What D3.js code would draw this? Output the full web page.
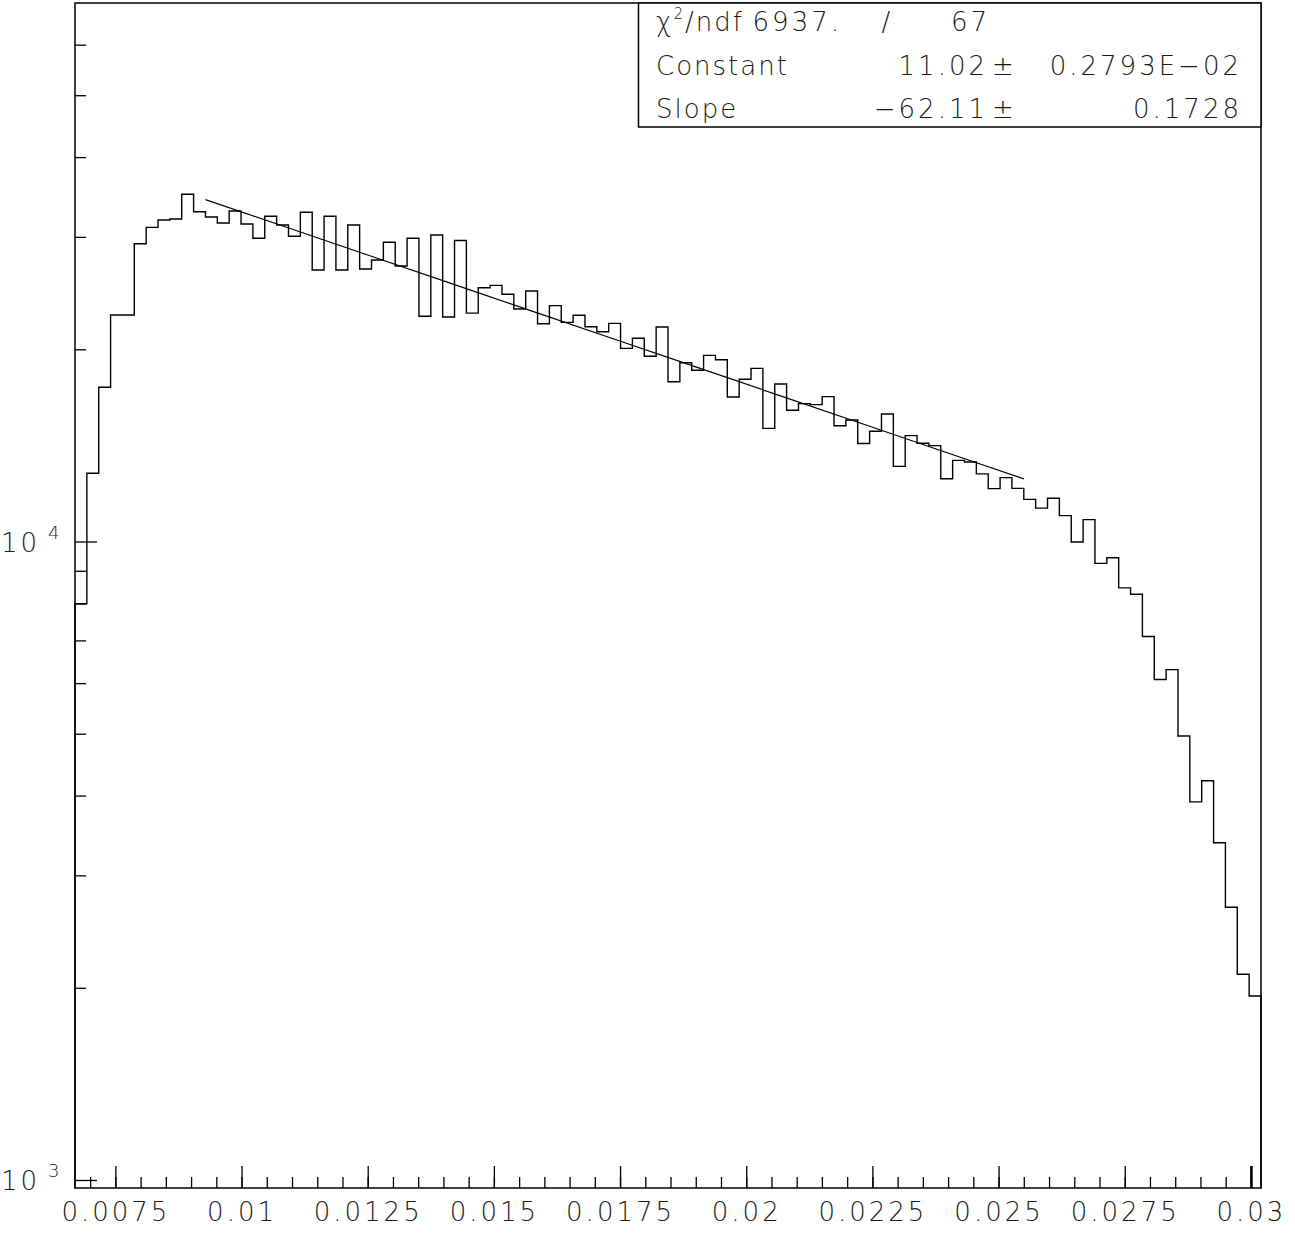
<!DOCTYPE html>
<html>
<head>
<meta charset="utf-8">
<script src="https://cdn.jsdelivr.net/npm/d3@7"></script>
<style>
  body { margin: 0; background: #fff; }
  svg text { font-family: "DejaVu Sans", sans-serif; font-weight: 200; fill: #1a1a1a; letter-spacing: 2px; }
  svg text.num { letter-spacing: 3px; }
</style>
</head>
<body>
<div id="chart"></div>
<script>
// histogram: 100 bins between xMin and xMax
var xMin = 0.0067, xMax = 0.0302;
var yMin = 971.5, yMax = 69730;
var counts = [
  7990, 12790, 17440, 22630, 22630, 29270, 31050, 31880, 32000, 34980,
  32850, 32230, 31540, 32930, 31430, 29850, 32310, 31310, 30060, 32780,
  26620, 32310, 26620, 31310, 26720, 27600, 29420, 27010, 29850, 22530,
  30200, 22470, 29610, 22790, 24970, 25190, 24390, 23130, 24680, 21930,
  23410, 22040, 22610, 21700, 21310, 21960, 20070, 20810, 19500, 21670,
  17790, 19050, 18540, 19570, 19260, 16840, 17950, 18670, 15040, 17650,
  16050, 16440, 16380, 16860, 15180, 15500, 14240, 14880, 15840, 13110,
  14650, 14250, 14130, 12540, 13400, 13320, 12760, 12100, 12590, 12110,
  11640, 11280, 11690, 10980, 9980, 10820, 9240, 9430, 8460, 8270,
  7100, 6080, 6300, 4960, 3910, 4220, 3375, 2674, 2100, 1942
];

// x axis ticks
var xMajorTicks = [0.0075, 0.01, 0.0125, 0.015, 0.0175, 0.02, 0.0225, 0.025, 0.0275, 0.03];
var xTickLabels = ["0.0075", "0.01", "0.0125", "0.015", "0.0175", "0.02", "0.0225", "0.025", "0.0275", "0.03"];
var xMinorStep = 0.0005;
// y axis ticks (log)
var yMajorTicks = [1000, 10000];
var yTickExponents = ["3", "4"];
var yMinorTicks = [2000, 3000, 4000, 5000, 6000, 7000, 8000, 9000, 20000, 30000, 40000, 50000, 60000];

// exponential fit: exp(Constant + Slope*x)
var fitConstant = 11.02, fitSlope = -62.11;
var fitRange = [0.009285, 0.0255];

// stats box rows
var statLabels = ["Constant", "Slope"];
var statValues = ["11.02", "\u221262.11"];
var statErrors = ["0.2793E\u221202", "0.1728"];
var chi2 = "6937.", ndf = "67";

var W = 1295, H = 1235;
var fL = 75, fR = 1261, fT = 3, fB = 1188;

var svg = d3.select("#chart").append("svg").attr("width", W).attr("height", H);

var x = d3.scaleLinear().domain([xMin, xMax]).range([fL, fR]);
var y = d3.scaleLog().domain([yMin, yMax]).range([fB, fT]);

// histogram step line
var bw = (xMax - xMin) / counts.length;
var pts = counts.map((c, i) => [xMin + i * bw, c]);
pts.push([xMax, counts[counts.length - 1]]);
var step = d3.line().x(d => x(d[0])).y(d => y(d[1])).curve(d3.curveStepAfter);
svg.append("path")
  .attr("d", "M" + x(xMin) + "," + fB + "L" + step(pts).slice(1) + "V" + fB)
  .attr("fill", "none").attr("stroke", "#000").attr("stroke-width", 1.4);

// fit line
var fitPts = d3.range(0, 11).map(i => {
  var xv = fitRange[0] + (fitRange[1] - fitRange[0]) * i / 10;
  return [xv, Math.exp(fitConstant + fitSlope * xv)];
});
svg.append("path")
  .attr("d", d3.line().x(d => x(d[0])).y(d => y(d[1]))(fitPts))
  .attr("fill", "none").attr("stroke", "#000").attr("stroke-width", 1.2);

// x axis: ticks point inwards
var xMinor = d3.range(Math.ceil(xMin / xMinorStep), Math.floor(xMax / xMinorStep) + 1).map(i => i * xMinorStep);
svg.append("g").attr("transform", "translate(0," + fB + ")")
  .call(d3.axisBottom(x).tickValues(xMinor).tickSize(-11).tickSizeOuter(0).tickFormat(""))
  .call(g => g.select(".domain").remove());
var xAx = svg.append("g").attr("transform", "translate(0," + fB + ")")
  .call(d3.axisBottom(x).tickValues(xMajorTicks).tickSize(-22).tickSizeOuter(0).tickPadding(15)
    .tickFormat((d, i) => xTickLabels[i]))
  .call(g => g.select(".domain").remove())
  .call(g => g.selectAll("text").attr("class", "num").attr("font-size", 26).attr("font-family", null));

// y axis
svg.append("g").attr("transform", "translate(" + fL + ",0)")
  .call(d3.axisLeft(y).tickValues(yMinorTicks).tickSize(-11).tickSizeOuter(0).tickFormat(""))
  .call(g => g.select(".domain").remove());
svg.append("g").attr("transform", "translate(" + fL + ",0)")
  .call(d3.axisLeft(y).tickValues(yMajorTicks).tickSize(-22).tickSizeOuter(0).tickFormat(""))
  .call(g => g.select(".domain").remove());
svg.selectAll(".tick line").attr("stroke", "#000").attr("stroke-width", 1.3);
// last major tick is drawn heavier in the original
xAx.selectAll(".tick line").filter((d, i) => i === xMajorTicks.length - 1).attr("stroke-width", 2.6);

var yLab = svg.append("g").selectAll("g").data(yMajorTicks).join("g")
  .attr("transform", d => "translate(0," + y(d) + ")");
yLab.append("text").attr("class", "num").attr("x", 40).attr("y", 10).attr("text-anchor", "end")
  .attr("font-size", 26).text("10");
yLab.append("text").attr("x", 48).attr("y", -3)
  .attr("font-size", 18).text((d, i) => yTickExponents[i]);

// frame
svg.append("rect").attr("x", fL).attr("y", fT).attr("width", fR - fL).attr("height", fB - fT)
  .attr("fill", "none").attr("stroke", "#000").attr("stroke-width", 1.5);

// stats box
var bx = 638.5;
var box = svg.append("g");
box.append("rect").attr("x", bx).attr("y", fT).attr("width", fR - bx).attr("height", 124)
  .attr("fill", "#fff").attr("stroke", "#000").attr("stroke-width", 1.5);
var rowY = [31, 75, 118];
var t1 = box.append("text").attr("x", 656).attr("y", rowY[0]).attr("font-size", 26);
t1.append("tspan").text("\u03c7");
t1.append("tspan").attr("font-size", 15).attr("dy", -12).text("2");
t1.append("tspan").attr("dy", 12).text("/ndf");
box.append("text").attr("class", "num").attr("x", 842).attr("y", rowY[0]).attr("text-anchor", "end").attr("font-size", 26).text(chi2);
box.append("text").attr("x", 887).attr("y", rowY[0]).attr("text-anchor", "middle").attr("font-size", 26).text("/");
box.append("text").attr("class", "num").attr("x", 990).attr("y", rowY[0]).attr("text-anchor", "end").attr("font-size", 26).text(ndf);
statLabels.forEach((lab, i) => {
  var ry = rowY[i + 1];
  box.append("text").attr("x", 656).attr("y", ry).attr("font-size", 26).text(lab);
  box.append("text").attr("class", "num").attr("x", 988).attr("y", ry).attr("text-anchor", "end").attr("font-size", 26).text(statValues[i]);
  box.append("text").attr("x", 992).attr("y", ry).attr("font-size", 26).text("\u00b1");
  box.append("text").attr("class", "num").attr("x", 1242).attr("y", ry).attr("text-anchor", "end").attr("font-size", 26).text(statErrors[i]);
});
</script>
</body>
</html>
